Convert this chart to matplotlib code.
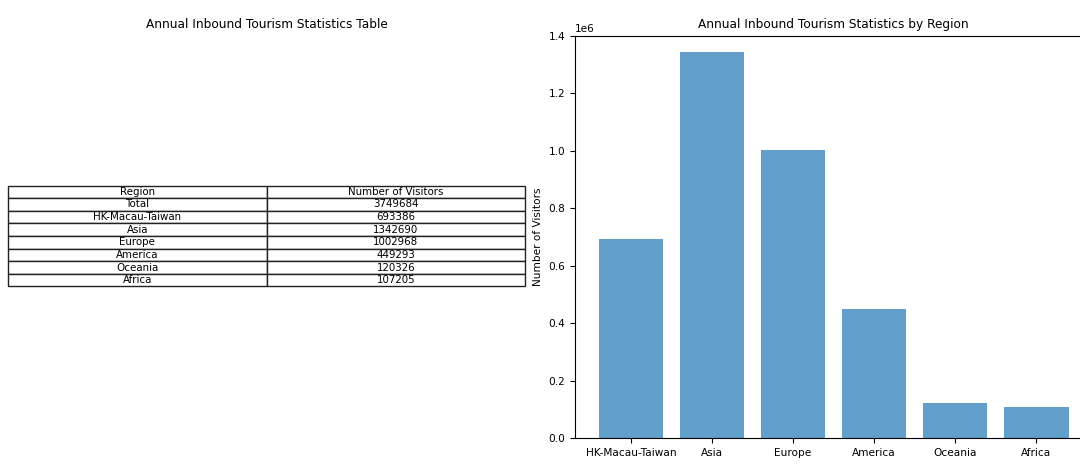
import matplotlib
matplotlib.use('Agg')
import matplotlib.pyplot as plt

# ── Data ───────────────────────────────────────────────────────────────────
TABLE_REGIONS = ["Total", "HK-Macau-Taiwan", "Asia", "Europe", "America", "Oceania", "Africa"]
TABLE_VISITORS = [3749684, 693386, 1342690, 1002968, 449293, 120326, 107205]
COL_LABELS = ["Region", "Number of Visitors"]

BAR_REGIONS = ["HK-Macau-Taiwan", "Asia", "Europe", "America", "Oceania", "Africa"]
BAR_VISITORS = [693386, 1342690, 1002968, 449293, 120326, 107205]

W, H = 1080, 465
fig = plt.figure(figsize=(W / 100, H / 100), dpi=100)

# axes placed in pixels (original figure was cropped on the right)
bottom = (H - 438) / H
height = (438 - 36) / H

# ── Left: table ────────────────────────────────────────────────────────────
ax1 = fig.add_axes([8 / W, bottom, 517 / W, height])
ax1.axis('off')
ax1.set_title("Annual Inbound Tourism Statistics Table", fontsize=8.7)
cells = [[r, str(v)] for r, v in zip(TABLE_REGIONS, TABLE_VISITORS)]
tbl = ax1.table(cellText=cells, colLabels=COL_LABELS, cellLoc='center',
                loc='center', bbox=[0, 0.377, 1, 0.251])
tbl.auto_set_font_size(False)
tbl.set_fontsize(7.4)
for cell in tbl.get_celld().values():
    cell.set_edgecolor('#222222')

# ── Right: bar chart ───────────────────────────────────────────────────────
ax2 = fig.add_axes([575 / W, bottom, 517 / W, height])
ax2.bar(BAR_REGIONS, BAR_VISITORS, color='tab:blue', alpha=0.7)
ax2.set_title("Annual Inbound Tourism Statistics by Region", fontsize=8.7)
ax2.set_ylabel("Number of Visitors", fontsize=7.6)
ax2.set_ylim(0, 1.4e6)
ax2.tick_params(labelsize=7.6)
ax2.yaxis.get_offset_text().set_fontsize(7.6)
ax2.spines['right'].set_visible(False)

plt.savefig("out.png", dpi=100)
